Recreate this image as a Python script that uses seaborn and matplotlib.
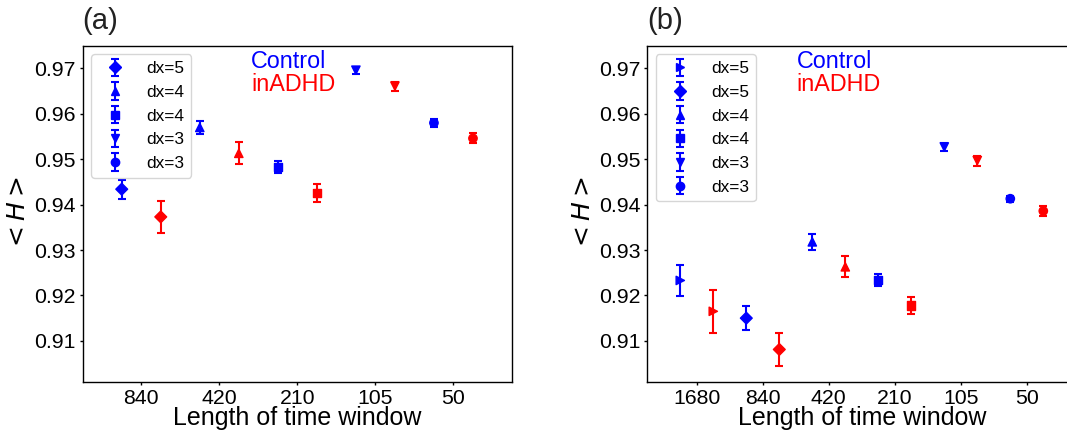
import numpy as np
import pandas as pd
import matplotlib
matplotlib.use("Agg")
import matplotlib.pyplot as plt
import seaborn as sns

# ---------------- data ----------------
ticks_a = ["840", "420", "210", "105", "50"]
markers_a = ["D", "^", "s", "v", "o"]
labels_a = ["dx=5", "dx=4", "dx=4", "dx=3", "dx=3"]
ctrl_a = [0.9434, 0.9570, 0.9483, 0.9696, 0.9580]
ctrl_a_err = [0.0021, 0.0015, 0.0013, 0.0008, 0.0008]
adhd_a = [0.9373, 0.9513, 0.9426, 0.9661, 0.9546]
adhd_a_err = [0.0036, 0.0024, 0.0020, 0.0010, 0.0011]

ticks_b = ["1680", "840", "420", "210", "105", "50"]
markers_b = [">", "D", "^", "s", "v", "o"]
labels_b = ["dx=5", "dx=5", "dx=4", "dx=4", "dx=3", "dx=3"]
ctrl_b = [0.9233, 0.9150, 0.9318, 0.9234, 0.9527, 0.9413]
ctrl_b_err = [0.0034, 0.0026, 0.0017, 0.0013, 0.0008, 0.0007]
adhd_b = [0.9165, 0.9081, 0.9263, 0.9178, 0.9497, 0.9386]
adhd_b_err = [0.0047, 0.0036, 0.0023, 0.0018, 0.0011, 0.0010]

groups = ["Control", "inADHD"]
colors = {"Control": "blue", "inADHD": "red"}

sns.set_style("ticks")
plt.rcParams["font.family"] = ["Liberation Sans", "DejaVu Sans"]
plt.rcParams["text.color"] = "black"
plt.rcParams["axes.labelcolor"] = "black"
plt.rcParams["xtick.color"] = "black"
plt.rcParams["ytick.color"] = "black"
plt.rcParams["axes.edgecolor"] = "black"

W, H = 1067, 432
fig = plt.figure(figsize=(W / 100, H / 100), dpi=100)
ax_a = fig.add_axes([82.7 / W, 50.3 / H, 429.3 / W, 336.0 / H])
ax_b = fig.add_axes([647.3 / W, 50.3 / H, 429.0 / W, 336.0 / H])


def panel(ax, ticks, markers, labels, ctrl, ctrl_err, adhd, adhd_err, tag):
    idx = np.arange(len(ticks))
    df = pd.DataFrame({
        "pos": np.concatenate([idx - 0.25, idx + 0.25]),
        "H": ctrl + adhd,
        "err": ctrl_err + adhd_err,
        "group": ["Control"] * len(ticks) + ["inADHD"] * len(ticks),
        "kind": [str(i) for i in idx] * 2,
    })
    mk = {str(i): m for i, m in enumerate(markers)}
    sns.scatterplot(data=df, x="pos", y="H", hue="group", style="kind",
                    markers=mk, palette=colors, s=36, edgecolor="face",
                    linewidth=1, legend=False, ax=ax, zorder=3)
    for g in groups:
        sub = df[df["group"] == g]
        ax.errorbar(sub["pos"], sub["H"], yerr=sub["err"], fmt="none",
                    ecolor=colors[g], elinewidth=1.5, capsize=3,
                    capthick=1.5, zorder=2)
    handles = []
    for m, lab in zip(markers, labels):
        h = ax.errorbar([np.nan], [np.nan], yerr=[np.nan], fmt=m,
                        color="blue", ms=6, capsize=3, elinewidth=1.5,
                        capthick=1.5, label=lab)
        handles.append(h)
    ax.legend(handles=handles, labels=labels, loc="upper left",
              fontsize=12.4, frameon=True)

    ax.set_xlim(-0.75, len(ticks) - 0.25)
    ax.set_ylim(0.901, 0.975)
    ax.set_xticks(idx)
    ax.set_xticklabels(ticks)
    ax.set_yticks([0.91, 0.92, 0.93, 0.94, 0.95, 0.96, 0.97])
    ax.tick_params(labelsize=15.3, length=2.5, width=1, pad=2.5)
    ax.set_xlabel("Length of time window", fontsize=18, labelpad=-1.5)
    ax.set_ylabel(r"$<H>$", fontsize=18, labelpad=3)
    for s in ax.spines.values():
        s.set_linewidth(1)
        s.set_color("black")
    ax.text(0.0, 1.032, tag, transform=ax.transAxes, fontsize=21,
            ha="left", va="bottom", color="#222222")


panel(ax_a, ticks_a, markers_a, labels_a, ctrl_a, ctrl_a_err,
      adhd_a, adhd_a_err, "(a)")
panel(ax_b, ticks_b, markers_b, labels_b, ctrl_b, ctrl_b_err,
      adhd_b, adhd_b_err, "(b)")

for ax, xf in ((ax_a, 0.392), (ax_b, 0.348)):
    ax.text(xf, 0.933, "Control", color="blue", fontsize=16.8,
            transform=ax.transAxes, ha="left", va="baseline")
    ax.text(xf, 0.866, "inADHD", color="red", fontsize=16.8,
            transform=ax.transAxes, ha="left", va="baseline")

fig.savefig("out.png", dpi=100)
